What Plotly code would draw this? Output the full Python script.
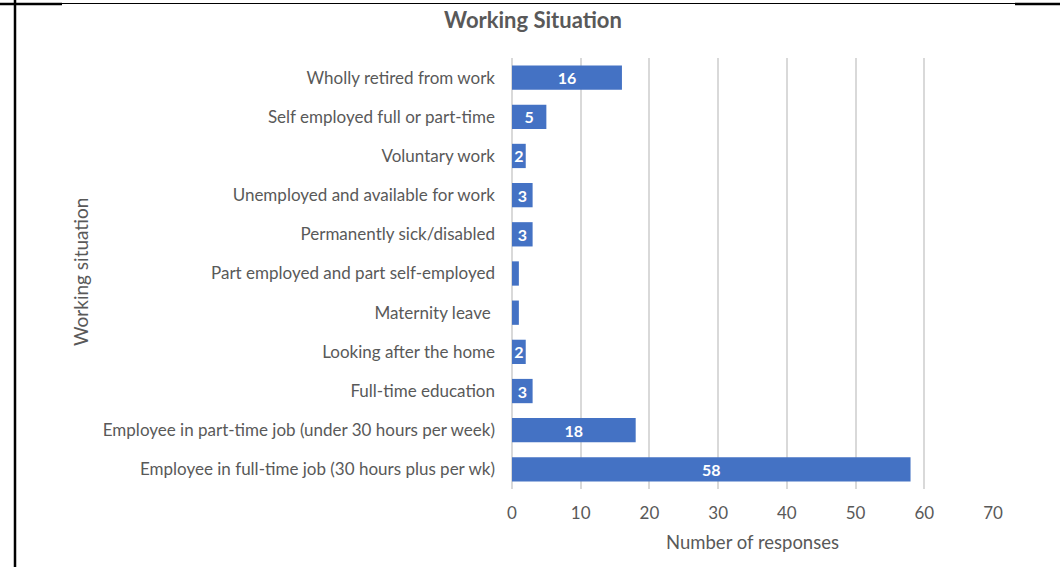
import plotly.graph_objects as go

categories = [
    "Employee in full-time job (30 hours plus per wk)",
    "Employee in part-time job (under 30 hours per week)",
    "Full-time education",
    "Looking after the home",
    "Maternity leave\u00a0",
    "Part employed and part self-employed",
    "Permanently sick/disabled",
    "Unemployed and available for work",
    "Voluntary work",
    "Self employed full or part-time",
    "Wholly retired from work",
]
responses = [58, 18, 3, 2, 1, 1, 3, 3, 2, 5, 16]
x_ticks = [0, 10, 20, 30, 40, 50, 60, 70]

W, H = 1060, 567
L, R, T, B = 512, 993, 58, 489
FONT = "Lato, Open Sans, sans-serif"
GREY = "#595959"

def px(x):
    return (x - L) / (R - L)

def py(y):
    return (B - y) / (B - T)

labels = [str(v) if v > 1 else "" for v in responses]

fig = go.Figure(go.Bar(
    y=categories,
    x=responses,
    orientation="h",
    marker=dict(color="#4472C4", line=dict(width=0)),
    text=labels,
    textposition="inside",
    insidetextanchor="middle",
    textangle=0,
    constraintext="none",
    textfont=dict(color="white", size=16, family=FONT, weight="bold"),
    cliponaxis=False,
    hoverinfo="skip",
))

fig.update_layout(
    width=W, height=H,
    margin=dict(l=L, r=W - R, t=T, b=H - B, pad=0),
    paper_bgcolor="white",
    plot_bgcolor="white",
    bargap=0.38,
    showlegend=False,
    font=dict(family=FONT, color=GREY, size=17),
    title=dict(text="<b>Working Situation</b>", x=px(533), xref="paper",
               xanchor="center", y=1 - 20 / H, yanchor="middle",
               font=dict(size=22, color=GREY, family=FONT)),
    xaxis=dict(range=[0, 70], tickvals=x_ticks, showgrid=True,
               gridcolor="#d9d9d9", gridwidth=2, zeroline=True,
               zerolinecolor="#d9d9d9", zerolinewidth=2, showline=False,
               ticks="", tickfont=dict(size=17, color=GREY),
               ticklabelstandoff=12,
               title=dict(text="Number of responses", standoff=14,
                          font=dict(size=18.5, color=GREY))),
    yaxis=dict(categoryorder="array", categoryarray=categories,
               showgrid=False, zeroline=False, showline=False, ticks="",
               ticklabelstandoff=16, tickfont=dict(size=17, color=GREY)),
    annotations=[dict(text="Working situation", textangle=-90,
                      xref="paper", yref="paper", x=px(80), y=py(272),
                      xanchor="center", yanchor="middle", showarrow=False,
                      font=dict(size=19, color=GREY, family=FONT))],
    shapes=[
        dict(type="line", xref="paper", yref="paper", x0=px(15), x1=px(15),
             y0=py(0), y1=py(H), line=dict(color="black", width=2.5)),
        dict(type="line", xref="paper", yref="paper", x0=px(0), x1=px(62),
             y0=py(4), y1=py(4), line=dict(color="black", width=2.5)),
        dict(type="line", xref="paper", yref="paper", x0=px(62), x1=px(1015),
             y0=py(3.5), y1=py(3.5), line=dict(color="black", width=1)),
        dict(type="line", xref="paper", yref="paper", x0=px(1015), x1=px(W),
             y0=py(4), y1=py(4), line=dict(color="black", width=2.5)),
    ],
)

fig.write_html(
    "out.html",
    config={"displayModeBar": False},
    post_script="document.body.style.margin='0';document.body.style.overflow='hidden';",
)
